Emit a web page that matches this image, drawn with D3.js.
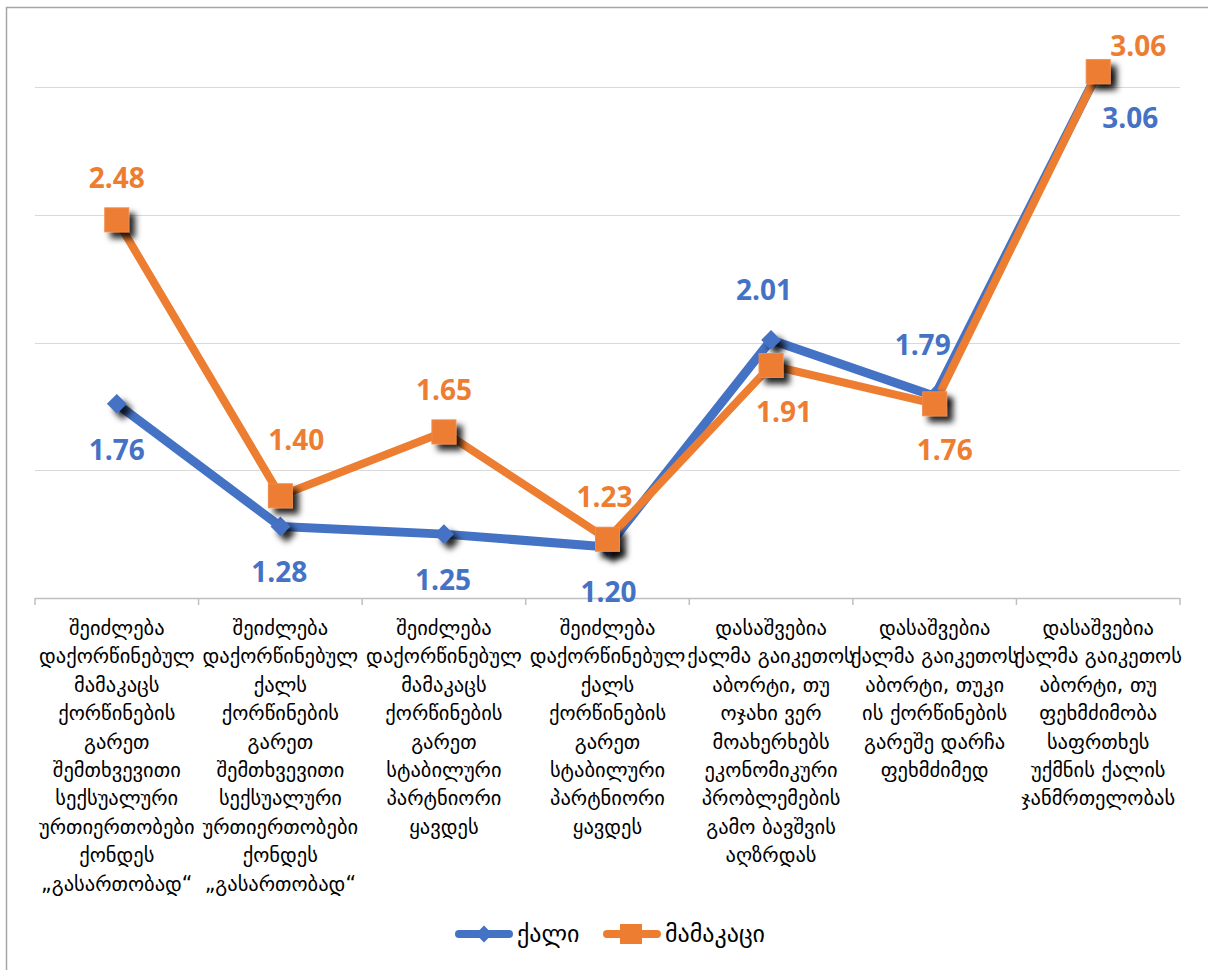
<!DOCTYPE html>
<html>
<head>
<meta charset="utf-8">
<script src="https://cdn.jsdelivr.net/npm/d3@7"></script>
<style>
  body { margin: 0; background: #fff; }
  svg { display: block; }
</style>
</head>
<body>
<div class="chart-container"></div>
<script>
// categories, each already broken into the lines shown under the axis
const categories = [
    ['შეიძლება', 'დაქორწინებულ', 'მამაკაცს', 'ქორწინების', 'გარეთ', 'შემთხვევითი', 'სექსუალური', 'ურთიერთობები', 'ქონდეს', '„გასართობად“'],
    ['შეიძლება', 'დაქორწინებულ', 'ქალს', 'ქორწინების', 'გარეთ', 'შემთხვევითი', 'სექსუალური', 'ურთიერთობები', 'ქონდეს', '„გასართობად“'],
    ['შეიძლება', 'დაქორწინებულ', 'მამაკაცს', 'ქორწინების', 'გარეთ', 'სტაბილური', 'პარტნიორი', 'ყავდეს'],
    ['შეიძლება', 'დაქორწინებულ', 'ქალს', 'ქორწინების', 'გარეთ', 'სტაბილური', 'პარტნიორი', 'ყავდეს'],
    ['დასაშვებია', 'ქალმა გაიკეთოს', 'აბორტი, თუ', 'ოჯახი ვერ', 'მოახერხებს', 'ეკონომიკური', 'პრობლემების', 'გამო  ბავშვის', 'აღზრდას'],
    ['დასაშვებია', 'ქალმა გაიკეთოს', 'აბორტი, თუკი', 'ის ქორწინების', 'გარეშე დარჩა', 'ფეხმძიმედ'],
    ['დასაშვებია', 'ქალმა გაიკეთოს', 'აბორტი, თუ', 'ფეხმძიმობა', 'საფრთხეს', 'უქმნის ქალის', 'ჯანმრთელობას']
];

const seriesNames = ['ქალი', 'მამაკაცი'];
const womenValues = [1.76, 1.28, 1.25, 1.20, 2.01, 1.79, 3.06];
const menValues = [2.48, 1.40, 1.65, 1.23, 1.91, 1.76, 3.06];
const gridValues = [1.5, 2, 2.5, 3];

// where each data label sits relative to its marker
const womenLabelOffsets = [[0, 46], [-1, 46], [-1, 46], [1, 45], [-7, -50], [-12, -51], [32, 47]];
const menLabelOffsets = [[0, -42], [16, -56], [0, -42], [-3, -42], [13, 47], [10, 46], [40, -25]];

const blue = '#4472c4';
const orange = '#ed7d31';

const width = 1208;
const height = 970;
const plotLeft = 35;
const plotRight = 1180;
const axisY = 598;

const svg = d3.select('.chart-container')
    .append('svg')
    .attr('width', width)
    .attr('height', height);

const defs = svg.append('defs');
const shadow = defs.append('filter')
    .attr('id', 'shadow')
    .attr('x', '-60%')
    .attr('y', '-60%')
    .attr('width', '250%')
    .attr('height', '250%');
shadow.append('feDropShadow')
    .attr('dx', 6)
    .attr('dy', 6)
    .attr('stdDeviation', 3)
    .attr('flood-color', '#000')
    .attr('flood-opacity', 0.85);

// chart frame
svg.append('rect')
    .attr('x', 6.5)
    .attr('y', 7.5)
    .attr('width', 1220)
    .attr('height', 1000)
    .attr('fill', '#fff')
    .attr('stroke', '#a6a6a6')
    .attr('stroke-width', 1.5);

const x = d3.scaleBand()
    .domain(d3.range(categories.length))
    .range([plotLeft, plotRight]);

const y = d3.scaleLinear()
    .domain([1, 3])
    .range([axisY, 87]);

const cx = i => x(i) + x.bandwidth() / 2;

svg.append('g')
    .attr('class', 'grid')
    .selectAll('line')
    .data(gridValues)
    .enter()
    .append('line')
    .attr('x1', plotLeft)
    .attr('x2', plotRight)
    .attr('y1', d => Math.round(y(d)) + 0.5)
    .attr('y2', d => Math.round(y(d)) + 0.5)
    .attr('stroke', '#d9d9d9')
    .attr('stroke-width', 1.2);

// category axis with ticks between categories
const axis = svg.append('g').attr('class', 'x-axis');
axis.append('line')
    .attr('x1', plotLeft)
    .attr('x2', plotRight)
    .attr('y1', axisY + 0.5)
    .attr('y2', axisY + 0.5)
    .attr('stroke', '#bfbfbf')
    .attr('stroke-width', 1.5);

axis.selectAll('.tick')
    .data(d3.range(categories.length + 1))
    .enter()
    .append('line')
    .attr('class', 'tick')
    .attr('x1', i => (i < categories.length ? x(i) : plotRight))
    .attr('x2', i => (i < categories.length ? x(i) : plotRight))
    .attr('y1', axisY)
    .attr('y2', axisY + 7)
    .attr('stroke', '#bfbfbf')
    .attr('stroke-width', 1.5);

axis.selectAll('.cat-label')
    .data(categories)
    .enter()
    .append('text')
    .attr('class', 'cat-label')
    .attr('text-anchor', 'middle')
    .attr('fill', '#000')
    .style('font-family', 'DejaVu Sans')
    .style('font-size', '20.5px')
    .each(function (lines, i) {
        d3.select(this).selectAll('tspan')
            .data(lines)
            .enter()
            .append('tspan')
            .attr('x', cx(i))
            .attr('y', (d, k) => 635 + k * 28.4)
            .text(d => d);
    });

const line = d3.line()
    .x((d, i) => cx(i))
    .y(d => y(d));

svg.append('path')
    .datum(womenValues)
    .attr('d', line)
    .attr('fill', 'none')
    .attr('stroke', blue)
    .attr('stroke-width', 9)
    .attr('stroke-linejoin', 'round');

svg.append('path')
    .datum(menValues)
    .attr('d', line)
    .attr('fill', 'none')
    .attr('stroke', orange)
    .attr('stroke-width', 8)
    .attr('stroke-linejoin', 'round');

const diamond = d3.symbol().type(d3.symbolDiamond2).size(250);

svg.append('g')
    .selectAll('path')
    .data(womenValues)
    .enter()
    .append('path')
    .attr('d', diamond)
    .attr('transform', (d, i) => `translate(${cx(i)},${y(d)})`)
    .attr('fill', blue)
    .attr('filter', 'url(#shadow)');

svg.append('g')
    .selectAll('rect')
    .data(menValues)
    .enter()
    .append('rect')
    .attr('x', (d, i) => cx(i) - 12)
    .attr('y', d => y(d) - 12)
    .attr('width', 24)
    .attr('height', 24)
    .attr('fill', orange)
    .attr('stroke', '#f08a4b')
    .attr('stroke-width', 1)
    .attr('filter', 'url(#shadow)');

function addLabels(values, offsets, color) {
    svg.append('g')
        .selectAll('text')
        .data(values)
        .enter()
        .append('text')
        .attr('x', (d, i) => cx(i) + offsets[i][0])
        .attr('y', (d, i) => y(d) + offsets[i][1])
        .attr('dy', '0.35em')
        .attr('text-anchor', 'middle')
        .attr('fill', color)
        .style('font-family', 'Open Sans')
        .style('font-weight', 700)
        .style('font-size', '28px')
        .text(d => d.toFixed(2));
}

addLabels(womenValues, womenLabelOffsets, blue);
addLabels(menValues, menLabelOffsets, orange);

// legend
const legendItems = [
    { name: seriesNames[0], color: blue, x: 455, marker: 'diamond' },
    { name: seriesNames[1], color: orange, x: 603, marker: 'square' }
];
const legend = svg.append('g').attr('class', 'legend');
const item = legend.selectAll('g')
    .data(legendItems)
    .enter()
    .append('g')
    .attr('transform', d => `translate(${d.x},934)`);

item.append('line')
    .attr('x1', 4)
    .attr('x2', 54)
    .attr('stroke', d => d.color)
    .attr('stroke-width', 8)
    .attr('stroke-linecap', 'round');

item.filter(d => d.marker === 'diamond')
    .append('path')
    .attr('d', d3.symbol().type(d3.symbolDiamond2).size(180))
    .attr('transform', 'translate(29,0)')
    .attr('fill', d => d.color);

item.filter(d => d.marker === 'square')
    .append('rect')
    .attr('x', 17)
    .attr('y', -10)
    .attr('width', 22)
    .attr('height', 20)
    .attr('fill', d => d.color);

item.append('text')
    .attr('x', 62)
    .attr('dy', '0.35em')
    .attr('fill', '#000')
    .style('font-family', 'DejaVu Sans')
    .style('font-size', '24px')
    .text(d => d.name);
</script>
</body>
</html>
